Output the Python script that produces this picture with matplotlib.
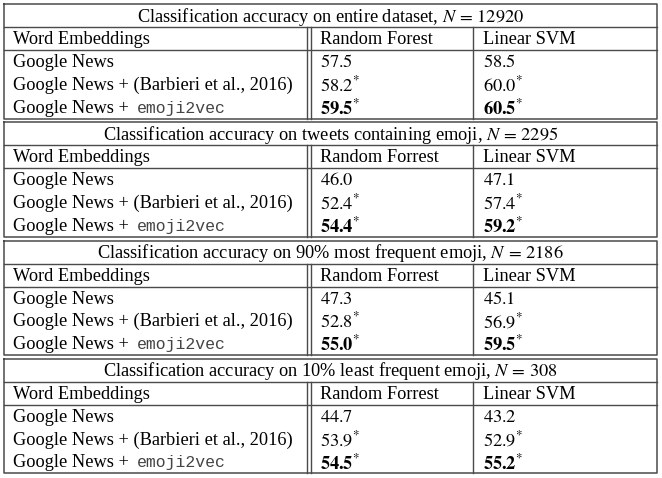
import matplotlib.pyplot as plt

plt.rcParams['font.family'] = ['Liberation Serif', 'DejaVu Serif']
plt.rcParams['mathtext.fontset'] = 'stix'

titles = ['Classification accuracy on entire dataset',
          'Classification accuracy on tweets containing emoji',
          'Classification accuracy on 90% most frequent emoji',
          'Classification accuracy on 10% least frequent emoji']
n_values = [12920, 2295, 2186, 308]
col_headers = [['Word Embeddings', 'Random Forest', 'Linear SVM'],
               ['Word Embeddings', 'Random Forrest', 'Linear SVM'],
               ['Word Embeddings', 'Random Forrest', 'Linear SVM'],
               ['Word Embeddings', 'Random Forrest', 'Linear SVM']]
row_names = ['Google News', 'Google News + (Barbieri et al., 2016)', 'Google News + ']
mono_suffix = ['', '', 'emoji2vec']
rf_acc = [[57.5, 58.2, 59.5], [46.0, 52.4, 54.4], [47.3, 52.8, 55.0], [44.7, 53.9, 54.5]]
svm_acc = [[58.5, 60.0, 60.5], [47.1, 57.4, 59.2], [45.1, 56.9, 59.5], [43.2, 52.9, 55.2]]
starred = [False, True, True]
bold = [False, False, True]

W, H = 662, 478
fig = plt.figure(figsize=(W / 100, H / 100), dpi=100)
ax = fig.add_axes([0, 0, 1, 1])
ax.set_xlim(0, W)
ax.set_ylim(H, 0)
ax.axis('off')

left, right = 4, 657
x_dbl = (307, 311)
x_sep = 473
col_x = [13, 320, 483]
block_h, gap = 114.5, 3.8
title_h, head_h, row_h = 23, 23, 22.8
lc = '#4a4a4a'
fs = 13.2

renderer = fig.canvas.get_renderer()


def fmt(v, st, b):
    s = '%.1f' % v
    if b:
        s = r'\mathbf{%s}' % s
    if st:
        s = s + r'^{*}'
    return '$' + s + '$'


for k in range(len(titles)):
    top = 4 + k * (block_h + gap)
    bot = top + block_h
    y1 = top + title_h
    y2 = y1 + head_h
    # box and rules
    ax.plot([left, right, right, left, left], [top, top, bot, bot, top], color=lc, lw=1.1)
    ax.plot([left, right], [y1, y1], color=lc, lw=1.0)
    ax.plot([left, right], [y2, y2], color=lc, lw=1.0)
    for xv in x_dbl:
        ax.plot([xv, xv], [y1, bot], color=lc, lw=1.0)
    ax.plot([x_sep, x_sep], [y1, bot], color=lc, lw=1.0)

    ax.text((left + right) / 2, top + title_h / 2 + 1,
            titles[k] + r', $N\,=\,%d$' % n_values[k],
            ha='center', va='center', fontsize=fs)
    for j, h in enumerate(col_headers[k]):
        ax.text(col_x[j], y1 + head_h / 2 + 1, h, ha='left', va='center', fontsize=fs)

    for i in range(3):
        yc = y2 + row_h * (i + 0.5) + 1
        t = ax.text(col_x[0], yc, row_names[i], ha='left', va='center', fontsize=fs)
        if mono_suffix[i]:
            bb = t.get_window_extent(renderer)
            x_end = ax.transData.inverted().transform((bb.x1, 0))[0]
            ax.text(x_end + 3, yc, mono_suffix[i], ha='left', va='center',
                    fontsize=fs - 1.3, family='Liberation Mono', color='#444444')
        ax.text(col_x[1], yc, fmt(rf_acc[k][i], starred[i], bold[i]),
                ha='left', va='center', fontsize=fs)
        ax.text(col_x[2], yc, fmt(svm_acc[k][i], starred[i], bold[i]),
                ha='left', va='center', fontsize=fs)

fig.savefig('out.png', dpi=100, facecolor='white')
